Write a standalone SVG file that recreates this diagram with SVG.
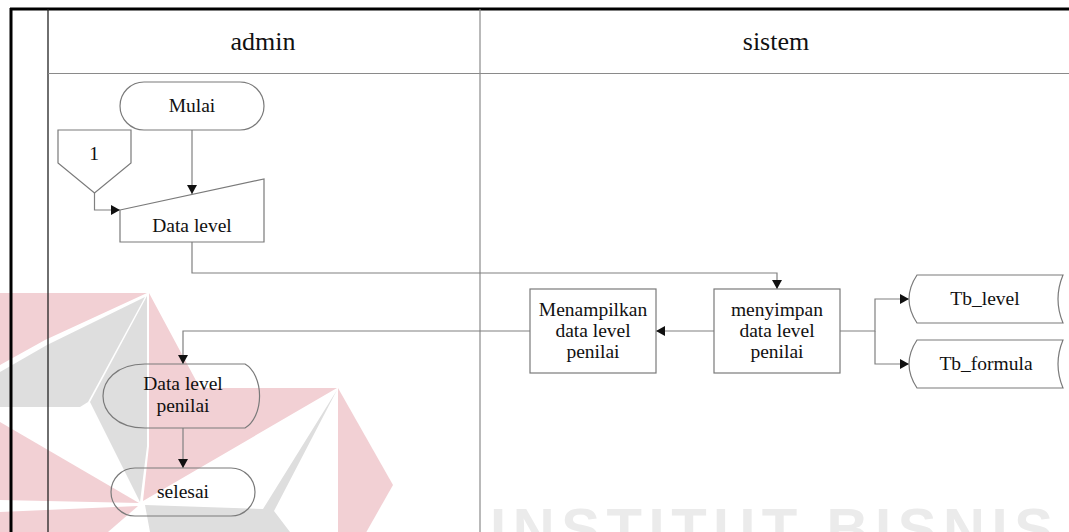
<svg xmlns="http://www.w3.org/2000/svg" width="1069" height="532" viewBox="0 0 1069 532">
  <style>
    .frame { fill: none; stroke: #000; stroke-width: 3; }
    .inner { fill: none; stroke: #222; stroke-width: 1.3; }
    .lane { fill: none; stroke: #8a8a8a; stroke-width: 1.2; }
    .shape { fill: none; stroke: #7a7a7a; stroke-width: 1.2; }
    .conn { fill: none; stroke: #808080; stroke-width: 1.2; }
    .lbl { font-family: 'Liberation Serif', 'DejaVu Serif', serif; font-size: 19.5px; fill: #111; text-anchor: middle; }
    .hdr { font-size: 26px; }
    .wm-red { fill: #f2d0d4; }
    .wm-grey { fill: #dedede; }
    .wm-text { font-family: 'Liberation Sans', sans-serif; font-weight: bold; font-size: 58px; fill: #ebebeb; }
  </style>
  <defs>
    <marker id="arr" markerWidth="9" markerHeight="10" refX="9" refY="5" orient="auto" markerUnits="userSpaceOnUse">
      <path d="M0,0 L9,5 L0,10 Z" fill="#111"/>
    </marker>
  </defs>

  <rect x="0" y="0" width="1069" height="532" fill="#fff"/>

  <!-- background logo and institute name -->
  <g id="watermark">
    <polygon class="wm-red" points="0,293 147,293 45,340 0,365"/>
    <polygon class="wm-grey" points="145,297 47,345 0,372 0,407 80,407 88,402"/>
    <polygon class="wm-grey" points="147,296 90,402 140,502 147,446"/>
    <polygon class="wm-red" points="149,293 200,388 337,388 143,501 149,446"/>
    <polygon class="wm-red" points="0,422 139,503 0,500"/>
    <polygon class="wm-red" points="0,512 138,506 108,532 0,532"/>
    <polygon class="wm-grey" points="337,390 263,509 145,505 150,532 290,532 274,511"/>
    <polygon class="wm-red" points="338,388 393,485 338,582"/>
    <text class="wm-text" font-family="Liberation Sans, sans-serif" x="490" y="549" textLength="563" lengthAdjust="spacing">INSTITUT BISNIS</text>
  </g>

  <!-- swimlane frame -->
  <g id="lanes" font-family="Liberation Serif, serif">
    <line class="frame" x1="10" y1="9" x2="1069" y2="9"/>
    <line class="frame" x1="11" y1="8" x2="11" y2="532"/>
    <line class="inner" x1="48" y1="9" x2="48" y2="532"/>
    <line class="lane" x1="48" y1="73.5" x2="1069" y2="73.5"/>
    <line class="lane" x1="480" y1="9" x2="480" y2="532"/>
    <text class="lbl hdr" x="263" y="50">admin</text>
    <text class="lbl hdr" x="776" y="50">sistem</text>
  </g>

  <!-- connectors -->
  <g id="connectors">
    <path class="conn" d="M192,130 V194" marker-end="url(#arr)"/>
    <path class="conn" d="M94.5,193 V210 H120" marker-end="url(#arr)"/>
    <path class="conn" d="M192,242 V273 H777 V289" marker-end="url(#arr)"/>
    <path class="conn" d="M714,331 H656" marker-end="url(#arr)"/>
    <path class="conn" d="M530,331 H183 V364" marker-end="url(#arr)"/>
    <path class="conn" d="M840,331 H875 V299 H909" marker-end="url(#arr)"/>
    <path class="conn" d="M875,331 V364 H909" marker-end="url(#arr)"/>
    <path class="conn" d="M183,428 V468" marker-end="url(#arr)"/>
  </g>

  <!-- admin lane -->
  <g id="mulai" font-family="Liberation Serif, serif">
    <rect class="shape" x="120" y="82" width="144" height="48" rx="24" ry="24"/>
    <text class="lbl" x="192" y="112">Mulai</text>
  </g>
  <g id="connector-1" font-family="Liberation Serif, serif">
    <polygon class="shape" points="58,130 131,130 131,163 94.5,193 58,163"/>
    <text class="lbl" x="94" y="160">1</text>
  </g>
  <g id="data-level" font-family="Liberation Serif, serif">
    <path class="shape" d="M120,210 L264,179 L264,242 L120,242 Z"/>
    <text class="lbl" x="192" y="232">Data level</text>
  </g>
  <g id="data-level-penilai" font-family="Liberation Serif, serif">
    <path class="shape" d="M145,364 H245 A22,34 0 0 1 245,428 H145 C115,428 103,410 103,396 C103,382 115,364 145,364 Z"/>
    <text class="lbl" x="183" y="390">Data level</text>
    <text class="lbl" x="183" y="412">penilai</text>
  </g>
  <g id="selesai" font-family="Liberation Serif, serif">
    <rect class="shape" x="111" y="468" width="144" height="48" rx="24" ry="24"/>
    <text class="lbl" x="183" y="498">selesai</text>
  </g>

  <!-- sistem lane -->
  <g id="menampilkan" font-family="Liberation Serif, serif">
    <rect class="shape" x="530" y="289" width="126" height="84"/>
    <text class="lbl" x="593" y="316">Menampilkan</text>
    <text class="lbl" x="593" y="337">data level</text>
    <text class="lbl" x="593" y="358">penilai</text>
  </g>
  <g id="menyimpan" font-family="Liberation Serif, serif">
    <rect class="shape" x="714" y="289" width="126" height="84"/>
    <text class="lbl" x="777" y="316">menyimpan</text>
    <text class="lbl" x="777" y="337">data level</text>
    <text class="lbl" x="777" y="358">penilai</text>
  </g>
  <g id="tb-level" font-family="Liberation Serif, serif">
    <path class="shape" d="M917,275 H1063 Q1053,299 1063,323 H917 Q901,299 917,275 Z"/>
    <text class="lbl" x="985" y="305">Tb_level</text>
  </g>
  <g id="tb-formula" font-family="Liberation Serif, serif">
    <path class="shape" d="M917,340 H1063 Q1053,364 1063,388 H917 Q901,364 917,340 Z"/>
    <text class="lbl" x="986" y="370">Tb_formula</text>
  </g>
</svg>
